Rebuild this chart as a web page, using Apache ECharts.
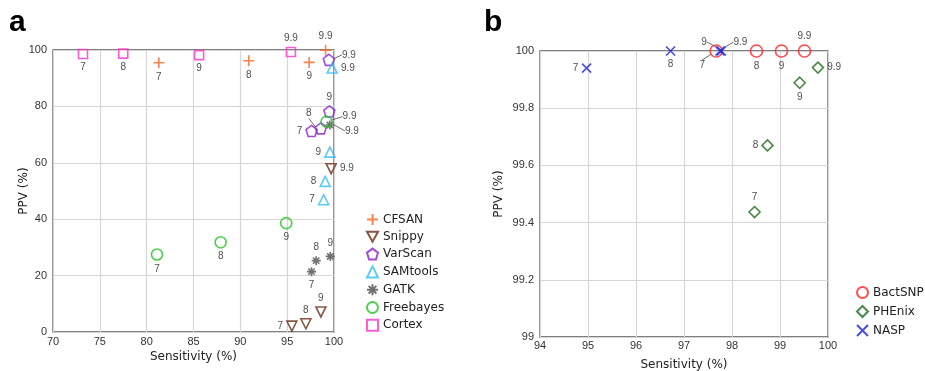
<!DOCTYPE html>
<html>

<head>
    <meta charset="utf-8">
    <script type="text/javascript" src="https://cdn.jsdelivr.net/npm/echarts@6/dist/echarts.min.js"></script>
    <title>Sensitivity vs PPV</title>
</head>

<body style="margin:0;background:#fff;">
    <div id="container" style="width:925px;height:371px;"></div>
    <script type="text/javascript">
    // 数据：每个工具在不同阈值下的 Sensitivity / PPV
    var pointLabels = ['7', '8', '9', '9.9'];

    // panel a
    var cfsanSens = [81.3, 90.9, 97.35, 99.1];
    var cfsanPpv = [95.5, 96.2, 95.6, 99.9];
    var snippySens = [95.5, 97.0, 98.6, 99.7];
    var snippyPpv = [2.1, 2.9, 7.1, 57.9];
    var varscanSens = [97.6, 98.6, 99.5, 99.45];
    var varscanPpv = [71.3, 72.2, 78.2, 96.5];
    var samtoolsSens = [98.9, 99.06, 99.56, 99.8];
    var samtoolsPpv = [46.9, 53.4, 63.8, 93.6];
    var gatkSens = [97.6, 98.1, 99.6, 99.56];
    var gatkPpv = [21.4, 25.3, 26.8, 73.4];
    var freebayesSens = [81.1, 87.9, 94.9, 99.2];
    var freebayesPpv = [27.5, 31.8, 38.6, 74.6];
    var cortexSens = [73.2, 77.5, 85.6, 95.4];
    var cortexPpv = [98.6, 98.7, 98.2, 99.3];

    // panel b
    var bactsnpSens = [97.67, 98.51, 99.03, 99.51];
    var bactsnpPpv = [100, 100, 100, 100];
    var phenixSens = [98.47, 98.74, 99.41, 99.79];
    var phenixPpv = [99.437, 99.67, 99.889, 99.942];
    var naspSens = [94.97, 96.72, 97.75, 97.78];
    var naspPpv = [99.94, 100, 100, 100];

    // 坐标轴刻度 [min, max, interval]
    var xTicksA = [70, 100, 5];
    var yTicksA = [0, 100, 20];
    var xTicksB = [94, 100, 1];
    var yTicksB = [99, 100, 0.2];

    // 自定义符号（只描边）
    var SYM = {
        plus: 'path://M5,0L5,10M0,5L10,5',
        cross: 'path://M0,0L10,10M0,10L10,0',
        star: 'path://M5,0L5,10M0,5L10,5M1.5,1.5L8.5,8.5M1.5,8.5L8.5,1.5',
        pentagon: 'path://M5,0L10,3.7L8.1,10L1.9,10L0,3.7Z',
        down: 'path://M0,0L10,0L5,9Z'
    };

    var labelFont = 'Liberation Sans';
    var titleFont = 'DejaVu Sans';

    // 构造一个散点系列；pos 为每个点标签的方位，lead 为带引线标签的偏移
    function makeSeries(name, sens, ppv, symbol, color, size, pos, lead, idx) {
        lead = lead || {};
        var data = sens.map(function(x, i) {
            var p = pos[i];
            var item = { name: pointLabels[i], value: [x, ppv[i]], label: {} };
            if (lead[i]) {
                item.label.position = 'inside';
                item.labelLine = { show: true };
            } else if (p === 'tl') {
                item.label.position = 'top';
                item.label.offset = [-7, 2];
            } else {
                item.label.position = p;
            }
            return item;
        });
        return {
            name: name,
            type: 'scatter',
            xAxisIndex: idx,
            yAxisIndex: idx,
            symbol: symbol,
            symbolSize: size,
            itemStyle: {
                color: 'rgba(0,0,0,0)',
                borderColor: color,
                borderWidth: 1.6
            },
            label: {
                show: true,
                formatter: '{b}',
                distance: 3,
                fontSize: 10,
                color: '#222',
                fontFamily: labelFont
            },
            labelLine: {
                show: false,
                lineStyle: { color: '#444', width: 0.8 }
            },
            labelLayout: function(params) {
                var o = lead[params.dataIndex];
                if (!o) return {};
                return { dx: o[0], dy: o[1] };
            },
            emphasis: { disabled: true },
            data: data
        };
    }

    function valueAxis(ticks, idx, name, gap, margin) {
        return {
            type: 'value',
            gridIndex: idx,
            min: ticks[0],
            max: ticks[1],
            interval: ticks[2],
            name: name,
            nameLocation: 'middle',
            nameGap: gap,
            nameMoveOverlap: false,
            nameTextStyle: { fontFamily: titleFont, fontSize: 12, color: '#222' },
            axisLine: { show: false },
            axisTick: { show: false },
            axisLabel: {
                fontFamily: labelFont,
                fontSize: 11,
                color: '#333',
                margin: margin
            },
            splitLine: { show: true, lineStyle: { color: '#d6d6d6', width: 1.2 } }
        };
    }

    var myChart = echarts.init(document.getElementById('container'));

    var legendText = { fontFamily: titleFont, fontSize: 12, color: '#222' };

    var option = {
        backgroundColor: '#fff',
        animation: false,
        graphic: [
            { type: 'text', left: 9, top: 8, style: { text: 'a', fontSize: 30, fontWeight: 'bold', fontFamily: labelFont, fill: '#000' } },
            { type: 'text', left: 484, top: 8, style: { text: 'b', fontSize: 30, fontWeight: 'bold', fontFamily: labelFont, fill: '#000' } }
        ],
        grid: [
            { left: 53, top: 50, width: 281, height: 282, outerBoundsMode: 'none', show: true, borderColor: '#555', borderWidth: 1.3, backgroundColor: 'transparent' },
            { left: 540, top: 51, width: 288, height: 286, outerBoundsMode: 'none', show: true, borderColor: '#555', borderWidth: 1.3, backgroundColor: 'transparent' }
        ],
        xAxis: [
            valueAxis(xTicksA, 0, 'Sensitivity (%)', 19, 4),
            valueAxis(xTicksB, 1, 'Sensitivity (%)', 22, 3)
        ],
        yAxis: [
            valueAxis(yTicksA, 0, 'PPV (%)', 23, 6),
            valueAxis(yTicksB, 1, 'PPV (%)', 35, 6)
        ],
        legend: [{
            orient: 'vertical',
            left: 361,
            top: 208,
            itemWidth: 11,
            itemHeight: 11,
            itemGap: 4.8,
            textStyle: legendText,
            data: ['CFSAN', 'Snippy', 'VarScan', 'SAMtools', 'GATK', 'Freebayes', 'Cortex']
        }, {
            orient: 'vertical',
            left: 851,
            top: 281,
            itemWidth: 11,
            itemHeight: 11,
            itemGap: 6,
            textStyle: legendText,
            data: ['BactSNP', 'PHEnix', 'NASP']
        }],
        series: [
            makeSeries('CFSAN', cfsanSens, cfsanPpv, SYM.plus, '#ff6420', 11,
                ['bottom', 'bottom', 'bottom', 'top'], null, 0),
            makeSeries('Snippy', snippySens, snippyPpv, SYM.down, '#6b2c14', 10,
                ['left', 'tl', 'top', 'right'], null, 0),
            makeSeries('VarScan', varscanSens, varscanPpv, SYM.pentagon, '#8a1fd0', 11,
                ['left', 'top', 'top', 'right'], { 1: [-12, -15], 3: [20, -5] }, 0),
            makeSeries('SAMtools', samtoolsSens, samtoolsPpv, 'triangle', '#33bbff', 10,
                ['left', 'left', 'left', 'right'], null, 0),
            makeSeries('GATK', gatkSens, gatkPpv, SYM.star, '#4d4d4d', 9,
                ['bottom', 'tl', 'top', 'right'], { 3: [22, 6] }, 0),
            makeSeries('Freebayes', freebayesSens, freebayesPpv, 'circle', '#22c422', 11,
                ['bottom', 'bottom', 'bottom', 'right'], { 3: [23, -5] }, 0),
            makeSeries('Cortex', cortexSens, cortexPpv, 'rect', '#ff33cc', 9,
                ['bottom', 'bottom', 'bottom', 'top'], null, 0),

            makeSeries('BactSNP', bactsnpSens, bactsnpPpv, 'circle', '#ff1f1f', 12,
                ['left', 'bottom', 'bottom', 'top'], { 0: [-14, 14] }, 1),
            makeSeries('PHEnix', phenixSens, phenixPpv, 'diamond', '#1a6b1a', 11,
                ['top', 'left', 'bottom', 'right'], null, 1),
            makeSeries('NASP', naspSens, naspPpv, SYM.cross, '#1a22e0', 9,
                ['left', 'bottom', 'left', 'right'], { 2: [-16, -9], 3: [19, -9] }, 1)
        ]
    };

    myChart.setOption(option);
    </script>
</body>

</html>
